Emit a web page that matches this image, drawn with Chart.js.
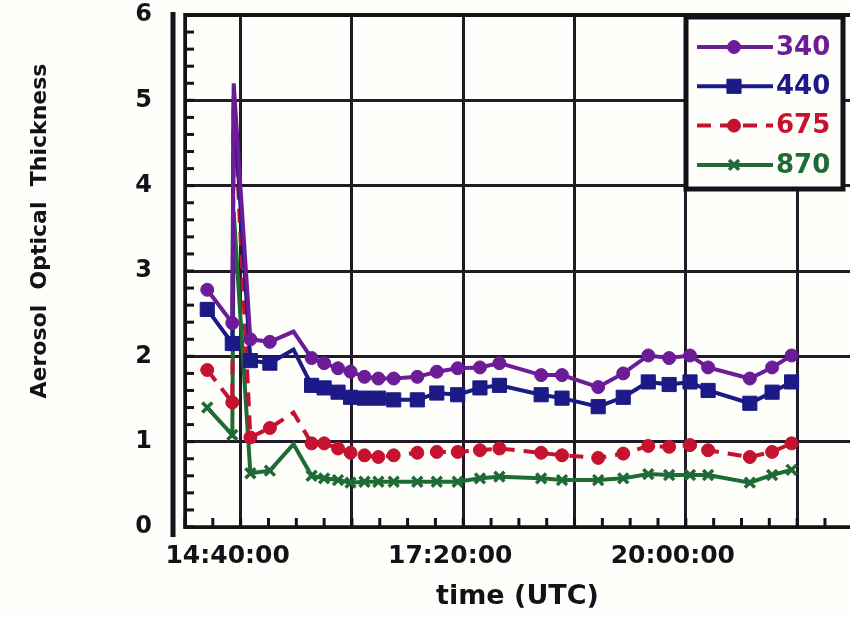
<!DOCTYPE html>
<html><head><meta charset="utf-8">
<script src="https://cdn.jsdelivr.net/npm/chart.js@4"></script>
<style>html,body{margin:0;padding:0;background:#fefefb;overflow:hidden}#wrap{width:850px;height:617px}</style>
</head><body><div id="wrap"><canvas id="c" width="850" height="617"></canvas></div>
<script>
// ---- data ----
const times = ['14:16','14:34','14:35','14:47','15:01','15:18','15:31','15:40','15:50','15:59','16:09','16:19','16:30','16:47','17:01','17:16','17:32','17:46','18:16','18:31','18:57','19:15','19:33','19:48','20:03','20:16','20:46','21:02','21:16'];
const aot340 = [2.78,2.39,5.20,2.20,2.17,2.29,1.98,1.92,1.86,1.82,1.76,1.74,1.74,1.76,1.82,1.86,1.87,1.92,1.78,1.78,1.64,1.80,2.01,1.98,2.01,1.87,1.74,1.87,2.01];
const aot440 = [2.55,2.15,5.00,1.95,1.92,2.08,1.66,1.63,1.58,1.52,1.51,1.51,1.49,1.49,1.57,1.55,1.63,1.66,1.55,1.51,1.41,1.52,1.70,1.67,1.70,1.60,1.45,1.58,1.70];
const aot675 = [1.84,1.46,5.05,1.05,1.16,1.34,0.98,0.98,0.92,0.87,0.84,0.82,0.84,0.87,0.88,0.88,0.90,0.92,0.87,0.84,0.81,0.86,0.95,0.94,0.96,0.90,0.82,0.88,0.98];
const aot870 = [1.40,1.08,3.70,0.63,0.66,0.97,0.60,0.57,0.55,0.52,0.53,0.53,0.53,0.53,0.53,0.53,0.57,0.59,0.57,0.55,0.55,0.57,0.62,0.61,0.61,0.61,0.52,0.61,0.67];
const seriesNames = ['340','440','675','870'];
const xTickLabels = ['14:40:00','17:20:00','20:00:00'];
const yTickLabels = ['0','1','2','3','4','5','6'];
const noMarkerTimes = ['14:35','15:18'];

const toMin = s => { const p = s.split(':').map(Number); return p[0]*60 + p[1] + (p[2]||0)/60; };
const X_MIN = toMin('14:00'), X_MAX = toMin('21:58');
const GRID_STEP = 80, MINOR_STEP = 20;
const FONT = "'DejaVu Sans', 'Liberation Sans', sans-serif";
const INK = '#161018';
const GRID = '#221a28';

const labelMap = {};
xTickLabels.forEach(l => { labelMap[Math.round(toMin(l))] = l; });
const gridValues = [];
for (let v = toMin(xTickLabels[0]); v <= X_MAX; v += GRID_STEP) gridValues.push(v);

const mk = vals => times.map((t, i) => ({x: toMin(t), y: vals[i]}));
const markerRadius = r => ctx => (noMarkerTimes.includes(times[ctx.dataIndex]) ? 0 : r);

const styles = [
  {color:'#6c1c96', pointStyle:'circle', radius:6.5, dash:[], pbw:1},
  {color:'#1c1a86', pointStyle:'rect', radius:10, dash:[], pbw:1},
  {color:'#c4122f', pointStyle:'circle', radius:6.5, dash:[14,9], pbw:1},
  {color:'#1f6a35', pointStyle:'crossRot', radius:7, dash:[], pbw:3.5}
];
const allVals = [aot340, aot440, aot675, aot870];

const datasets = seriesNames.map((name, i) => ({
  label: name,
  data: mk(allVals[i]),
  borderColor: styles[i].color,
  backgroundColor: styles[i].color,
  pointBackgroundColor: styles[i].color,
  pointBorderColor: styles[i].color,
  pointBorderWidth: styles[i].pbw,
  pointStyle: styles[i].pointStyle,
  pointRadius: markerRadius(styles[i].radius),
  legendRadius: styles[i].radius,
  borderWidth: 4,
  borderDash: styles[i].dash,
  tension: 0,
  fill: false
}));

function drawMarker(ctx, style, r, x, y, color, bw) {
  if (Chart.helpers && Chart.helpers.drawPoint) {
    ctx.save();
    ctx.fillStyle = color; ctx.strokeStyle = color; ctx.lineWidth = bw; ctx.setLineDash([]);
    Chart.helpers.drawPoint(ctx, {pointStyle: style, rotation: 0, radius: r, borderWidth: bw}, x, y);
    ctx.restore();
  }
}

const bgPlugin = {
  id: 'bg',
  beforeDraw(chart) {
    const c = chart.ctx; c.save(); c.fillStyle = '#fefefb'; c.fillRect(0, 0, chart.width, chart.height); c.restore();
  }
};

const framePlugin = {
  id: 'frame',
  afterDatasetsDraw(chart) {
    const c = chart.ctx, a = chart.chartArea, xs = chart.scales.x, ys = chart.scales.y;
    c.save();
    c.strokeStyle = INK; c.lineCap = 'butt'; c.setLineDash([]);
    c.lineWidth = 3;
    for (let v = 0; v <= 6.001; v += 0.2) {
      const py = ys.getPixelForValue(v);
      c.beginPath(); c.moveTo(a.left, py); c.lineTo(a.left + 9, py); c.stroke();
    }
    for (let m = X_MIN; m <= X_MAX; m += MINOR_STEP) {
      const px = xs.getPixelForValue(m);
      c.beginPath(); c.moveTo(px, a.bottom); c.lineTo(px, a.bottom - 9); c.stroke();
    }
    c.lineWidth = 4;
    c.beginPath(); c.moveTo(a.left - 1, a.top); c.lineTo(a.right, a.top); c.stroke();
    c.lineWidth = 3.5;
    c.beginPath(); c.moveTo(a.left, a.top - 2); c.lineTo(a.left, a.bottom + 2); c.stroke();
    c.beginPath(); c.moveTo(a.left - 1, a.bottom); c.lineTo(a.right, a.bottom); c.stroke();
    c.lineWidth = 5;
    c.beginPath(); c.moveTo(a.left - 12, a.top - 3); c.lineTo(a.left - 12, a.bottom + 10); c.stroke();
    c.restore();
  }
};

const legendPlugin = {
  id: 'boxLegend',
  afterDraw(chart) {
    const c = chart.ctx, a = chart.chartArea;
    const bx = a.right - 164, by = a.top + 2, bw = 157, bh = 172;
    c.save();
    c.fillStyle = '#fefefb'; c.fillRect(bx, by, bw, bh);
    c.strokeStyle = INK; c.lineWidth = 5; c.setLineDash([]);
    c.strokeRect(bx, by, bw, bh);
    chart.data.datasets.forEach((ds, i) => {
      const y = by + 30 + i * 39.3;
      const x0 = bx + 11, x1 = bx + 87, xm = bx + 48;
      c.strokeStyle = ds.borderColor; c.lineWidth = 4;
      c.setLineDash(ds.borderDash || []);
      c.beginPath(); c.moveTo(x0, y); c.lineTo(x1, y); c.stroke();
      c.setLineDash([]);
      drawMarker(c, ds.pointStyle, ds.legendRadius, xm, y, ds.borderColor, ds.pointBorderWidth);
      c.fillStyle = ds.borderColor;
      c.font = 'bold 26px ' + FONT;
      c.textAlign = 'left'; c.textBaseline = 'middle';
      c.fillText(ds.label, x1 + 3, y + 1);
    });
    c.restore();
  }
};

const yTitlePlugin = {
  id: 'yTitle',
  afterDraw(chart) {
    const c = chart.ctx;
    c.save();
    c.translate(40, 231);
    c.rotate(-Math.PI / 2);
    c.fillStyle = INK;
    c.font = 'bold 22px ' + FONT;
    c.textAlign = 'center'; c.textBaseline = 'middle';
    c.fillText('Aerosol  Optical  Thickness', 0, 0);
    c.restore();
  }
};

const zeroPad = s => { s.paddingTop = 0; s.paddingBottom = 0; s.paddingLeft = 0; s.paddingRight = 0; };

new Chart(document.getElementById('c'), {
  type: 'line',
  data: {datasets},
  plugins: [bgPlugin, framePlugin, legendPlugin, yTitlePlugin],
  options: {
    responsive: false,
    animation: false,
    devicePixelRatio: 1,
    layout: {autoPadding: false, padding: {top: 15, left: 0, right: 0, bottom: 0}},
    plugins: {legend: {display: false}, tooltip: {enabled: false}},
    scales: {
      x: {
        type: 'linear', min: X_MIN, max: X_MAX,
        afterBuildTicks: s => { s.ticks = gridValues.map(v => ({value: v})); },
        afterFit: s => { s.height = 90; zeroPad(s); },
        ticks: {
          autoSkip: false, maxRotation: 0, minRotation: 0,
          callback: v => labelMap[Math.round(v)] || '',
          color: INK, font: {family: FONT, size: 25, weight: 'bold'},
          padding: 14, labelOffset: -13
        },
        grid: {color: GRID, lineWidth: 3, drawTicks: false},
        border: {display: true, color: INK, width: 3},
        title: {display: true, text: 'time (UTC)', color: INK,
          font: {family: FONT, size: 27, weight: 'bold'}, padding: {top: 0, bottom: 4}}
      },
      y: {
        type: 'linear', min: 0, max: 6,
        afterFit: s => { s.width = 185; zeroPad(s); },
        ticks: {
          stepSize: 1,
          callback: v => yTickLabels[v] !== undefined ? yTickLabels[v] : '',
          color: INK, font: {family: FONT, size: 24, weight: 'bold'}, padding: 33
        },
        grid: {color: GRID, lineWidth: 3, drawTicks: false},
        border: {display: true, color: INK, width: 3}
      }
    }
  }
});
</script></body></html>
